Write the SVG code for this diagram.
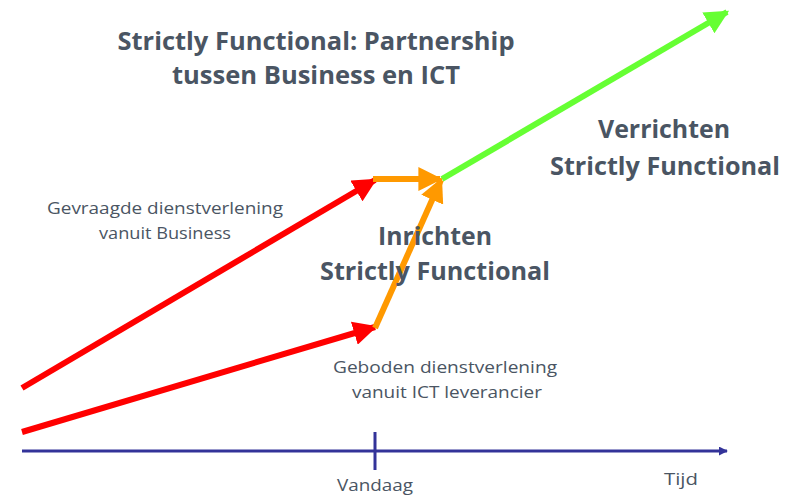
<svg xmlns="http://www.w3.org/2000/svg" width="802" height="496" viewBox="0 0 802 496">
<defs>
<marker id="hr" viewBox="0 0 10 10" refX="9" refY="5" markerWidth="4" markerHeight="4" markerUnits="strokeWidth" orient="auto"><path d="M0,0 L10,5 L0,10 Z" fill="#ff0000"/></marker>
<marker id="ho" viewBox="0 0 10 10" refX="9" refY="5" markerWidth="4" markerHeight="4" markerUnits="strokeWidth" orient="auto"><path d="M0,0 L10,5 L0,10 Z" fill="#ff9900"/></marker>
<marker id="hg" viewBox="0 0 10 10" refX="9" refY="5" markerWidth="4" markerHeight="4" markerUnits="strokeWidth" orient="auto"><path d="M0,0 L10,5 L0,10 Z" fill="#66ff33"/></marker>
<marker id="hb" viewBox="0 0 10 10" refX="9" refY="5" markerWidth="3" markerHeight="3" markerUnits="strokeWidth" orient="auto"><path d="M0,0 L10,5 L0,10 Z" fill="#333399"/></marker>
</defs>
<style>
text{font-family:"Open Sans","Liberation Sans",sans-serif;fill:#4a5563}
.big{font-size:25px;font-weight:bold}
.sm{font-size:17px}
.line{fill:none;stroke-width:6}
</style>
<rect width="802" height="496" fill="#ffffff"/>
<g id="connectors">
<line class="line" x1="22" y1="388" x2="375" y2="180" stroke="#ff0000" marker-end="url(#hr)"/>
<line class="line" x1="22" y1="432" x2="375" y2="327" stroke="#ff0000" marker-end="url(#hr)"/>
<line class="line" x1="373" y1="179" x2="440" y2="179" stroke="#ff9900" marker-end="url(#ho)"/>
<line class="line" x1="375" y1="328" x2="441" y2="180" stroke="#ff9900" marker-end="url(#ho)"/>
<line class="line" x1="442" y1="179" x2="727" y2="12" stroke="#66ff33" marker-end="url(#hg)"/>
<line x1="22" y1="451" x2="727" y2="451" stroke="#333399" stroke-width="3" marker-end="url(#hb)"/>
<line x1="375" y1="432" x2="375" y2="470" stroke="#333399" stroke-width="3"/>
</g>
<g id="title">
<text class="big" x="316" y="50" text-anchor="middle" textLength="397" lengthAdjust="spacingAndGlyphs">Strictly Functional: Partnership</text>
<text class="big" x="316" y="84" text-anchor="middle" textLength="288" lengthAdjust="spacingAndGlyphs">tussen Business en ICT</text>
</g>
<g id="verrichten">
<text class="big" x="664" y="138" text-anchor="middle" textLength="132" lengthAdjust="spacingAndGlyphs">Verrichten</text>
<text class="big" x="665" y="175" text-anchor="middle" textLength="230" lengthAdjust="spacingAndGlyphs">Strictly Functional</text>
</g>
<g id="inrichten">
<text class="big" x="435" y="245" text-anchor="middle" textLength="114" lengthAdjust="spacingAndGlyphs">Inrichten</text>
<text class="big" x="435" y="280" text-anchor="middle" textLength="230" lengthAdjust="spacingAndGlyphs">Strictly Functional</text>
</g>
<g id="gevraagd">
<text class="sm" x="165" y="214" text-anchor="middle" textLength="236" lengthAdjust="spacingAndGlyphs">Gevraagde dienstverlening</text>
<text class="sm" x="165" y="239" text-anchor="middle" textLength="132" lengthAdjust="spacingAndGlyphs">vanuit Business</text>
</g>
<g id="geboden">
<text class="sm" x="445" y="373" text-anchor="middle" textLength="224" lengthAdjust="spacingAndGlyphs">Geboden dienstverlening</text>
<text class="sm" x="447" y="398" text-anchor="middle" textLength="190" lengthAdjust="spacingAndGlyphs">vanuit ICT leverancier</text>
</g>
<g id="axis-labels">
<text class="sm" x="375" y="491" text-anchor="middle" textLength="76" lengthAdjust="spacingAndGlyphs">Vandaag</text>
<text class="sm" x="681" y="485" text-anchor="middle" textLength="34" lengthAdjust="spacingAndGlyphs">Tijd</text>
</g>
</svg>
